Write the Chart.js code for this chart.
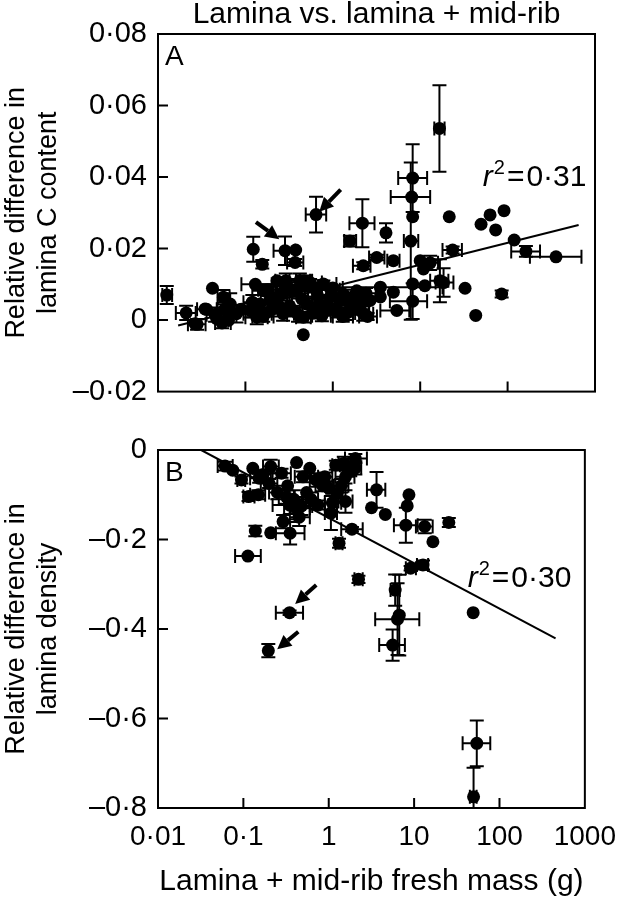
<!DOCTYPE html>
<html><head><meta charset="utf-8">
<script src="https://cdn.jsdelivr.net/npm/chart.js@4/dist/chart.umd.min.js"></script>
<style>
html,body{margin:0;padding:0;background:#fff;}
#wrap{position:relative;width:628px;height:900px;}
canvas{position:absolute;left:0;}
</style></head><body>
<div id="wrap">
<canvas id="ca" width="628" height="420" style="top:0"></canvas>
<canvas id="cb" width="628" height="480" style="top:420px"></canvas>
</div>
<script>
// ---------- tick values & labels ----------
const xTicks = [0.01, 0.1, 1, 10, 100, 1000];
const xTickLabels = ['0·01', '0·1', '1', '10', '100', '1000'];
const aTicks = [-0.02, 0, 0.02, 0.04, 0.06, 0.08];
const aTickLabels = ['–0·02', '0', '0·02', '0·04', '0·06', '0·08'];
const bTicks = [-0.8, -0.6, -0.4, -0.2, 0];
const bTickLabels = ['–0·8', '–0·6', '–0·4', '–0·2', '0'];

// ---------- Panel A: lamina C content ----------
const aMass = [0.0126,0.042,0.021,0.028,0.0345,0.054,0.056,0.067,0.079,0.047,
  0.064,0.113,0.123,0.135,0.147,0.156,0.16,0.23,0.23,0.27,
  0.284,0.324,0.376,0.37,0.42,0.50,0.46,0.46,0.35,0.643,
  0.65,0.78,0.93,1.11,1.32,1.57,1.88,2.23,2.67,2.18,
  4.06,1.57,2.23,3.18,4.93,10.0,10.9,16.6,8.2,8.0,
  8.2,7.8,8.2,8.2,16.8,18.5,11.3,4.93,5.4,21.5,
  23.5,32.6,43.2,49.7,63,73,91,85.5,119,162,
  358,0.0265,0.17,0.19,0.60,0.70,1.00,1.30,2.00,2.50,
  0.30,0.55,0.24,0.14,0.09,0.036,13.0,3.5,3.5,0.13,
  0.20,0.26,0.32,0.38,0.44,0.52,0.58,0.68,0.85,0.95,
  1.2,1.45,1.7,2.1,2.4,0.12,0.18,0.16,0.40,0.75,
  1.0,0.045,0.058,0.29,0.47];
const aDiffC = [0.0070,0.0089,0.0020,-0.0012,0.0031,-0.0008,0.0064,0.0045,0.0018,0.0004,
  -0.0001,0.0027,0.0198,0.0008,0.0045,0.0156,0.0082,0.0064,0.011,0.0018,
  0.0194,0.0082,0.0196,0.0161,0.011,0.0045,0.0008,-0.0041,0.0027,0.0295,
  0.0082,0.0101,0.0064,0.0027,0.0073,0.0045,0.0082,0.0018,0.0055,0.0271,
  0.0244,0.0221,0.0152,0.0175,0.0166,0.0166,0.0143,0.0536,0.0397,0.0344,
  0.0289,0.0221,0.0101,0.0053,0.011,0.0105,0.0096,0.0078,0.0027,0.0289,
  0.0196,0.0089,0.0013,0.0268,0.0294,0.0252,0.0306,0.0073,0.0224,0.0192,
  0.0177,-0.0010,0.0020,0.0055,0.0020,0.0045,0.0090,0.0010,0.0030,0.0010,
  0.0095,0.0105,0.0040,0.0015,0.0030,0.0030,0.0160,0.0092,0.0065,0.0100,
  0.0030,0.0075,0.0040,0.0085,0.0060,0.0095,0.0035,0.0065,0.0040,0.0085,
  0.0055,0.0020,0.0065,0.0045,0.0075,0.0050,0.0085,0.0010,0.0015,0.0012,
  0.0030,0.0015,0.0030,0.0110,0.0110];
const aMassLo = [0.0112,null,0.016,0.022,null,0.045,0.048,null,0.065,null,
  null,0.085,null,0.10,null,null,0.12,0.17,null,0.20,
  0.21,null,null,0.30,0.32,null,0.38,null,null,0.49,
  null,0.50,null,0.80,null,1.20,null,1.70,null,1.55,
  null,1.35,1.70,2.60,4.20,null,null,14.5,5.6,4.6,
  null,6.5,null,4.5,13.0,15.0,null,null,3.5,null,
  18.0,null,null,null,null,null,null,null,null,110,
  180,null,null,null,0.45,null,0.70,1.00,1.50,2.00,
  0.22,0.40,null,null,null,0.028,10.0,0.90,null,0.09,
  0.15,0.20,0.25,0.30,0.34,0.40,0.45,0.52,0.65,0.75,
  0.95,1.15,1.35,1.70,1.90,0.095,0.14,0.12,0.30,0.58,
  0.80,0.036,0.047,0.22,0.38];
const aMassHi = [0.0145,null,0.027,0.035,null,0.068,0.066,null,0.095,null,
  null,0.15,null,0.18,null,null,0.21,0.30,null,0.36,
  0.37,null,null,0.46,0.55,null,0.56,null,null,0.84,
  null,1.10,null,1.40,null,2.00,null,2.90,null,3.00,
  null,1.85,2.70,3.90,5.80,null,null,19.0,12.0,13.0,
  null,9.5,null,12.0,21.0,24.0,null,null,7.5,null,
  30.0,null,null,null,null,null,null,null,null,235,
  700,null,null,null,0.80,null,1.30,1.70,2.60,3.20,
  0.42,0.75,null,null,null,0.048,16.0,18.0,null,0.20,
  0.27,0.34,0.42,0.48,0.58,0.68,0.75,0.90,1.10,1.20,
  1.50,1.80,2.20,2.60,3.10,0.15,0.23,0.21,0.52,0.95,
  1.25,0.056,0.070,0.38,0.58];
const aDiffCErr = [0.0025,0,0.002,0.0015,0,0.0015,0.002,0.003,0.0025,0,
  0,0.002,0.0035,0.002,0,0.0012,0,0.003,0,0.002,
  0.004,0,0,0.001,0.002,0,0.0015,0,0,0.005,
  0,0.001,0,0.002,0,0.002,0,0.002,0,0.0067,
  0.0027,0.0015,0.001,0.0008,0,0,0,0.0121,0.0095,0,
  0,0.022,0,0.005,0.006,0.004,0,0,0,0,
  0.001,0,0,0,0,0,0,0.001,0,0.0015,
  0,0,0,0,0.0015,0,0,0.0015,0.0015,0.001,
  0.002,0.001,0,0,0,0,0.002,0,0,0,
  0.002,0.002,0.003,0.002,0.0025,0.0015,0.003,0.002,0.002,0.0015,
  0.002,0.002,0.002,0.002,0.0015,0.002,0.0015,0.0015,0.002,0.0015,
  0.0015,0.002,0.002,0.002,0.0015];
const aFitMass = [0.017, 650];
const aFitDiff = [-0.0015, 0.0266];

// ---------- Panel B: lamina density ----------
const bMass = [0.061,0.095,0.129,0.153,0.209,0.28,0.42,0.60,0.115,0.15,
  0.35,0.42,0.39,0.292,0.353,0.138,0.209,0.113,0.348,0.196,
  0.746,1.06,1.26,1.57,1.32,1.87,2.23,0.71,0.90,1.21,
  1.57,2.05,2.05,3.63,3.17,4.60,8.70,8.30,8.00,13.3,
  16.6,25.5,12.7,9.1,6.0,6.7,6.4,5.6,49.2,54.2,
  49.7,0.33,0.55,0.45,0.25,1.00,1.10,0.075,1.50,0.20,
  0.17,0.50,0.32,0.62,0.85,1.40,1.75,0.48];
const bDiffDens = [-0.036,-0.067,-0.041,-0.063,-0.037,-0.052,-0.028,-0.041,-0.104,-0.100,
  -0.123,-0.130,-0.110,-0.160,-0.186,-0.181,-0.185,-0.237,-0.3635,-0.4484,
  -0.123,-0.141,-0.097,-0.115,-0.2086,-0.177,-0.289,-0.067,-0.060,-0.034,
  -0.060,-0.019,-0.040,-0.089,-0.129,-0.144,-0.100,-0.125,-0.168,-0.171,
  -0.205,-0.162,-0.257,-0.264,-0.313,-0.369,-0.378,-0.436,-0.3635,-0.6555,
  -0.775,-0.080,-0.095,-0.150,-0.095,-0.085,-0.118,-0.045,-0.030,-0.075,
  -0.055,-0.060,-0.105,-0.110,-0.080,-0.080,-0.045,-0.125];
const bMassLo = [0.050,0.085,null,0.12,0.17,0.22,null,null,0.10,0.12,
  0.22,0.30,0.30,null,0.24,null,null,0.08,0.24,null,
  0.60,0.90,null,1.30,1.20,1.40,2.00,0.60,0.75,1.10,
  1.20,1.55,1.70,2.80,null,null,null,null,5.80,10.5,
  null,null,10.8,8.0,5.3,null,3.5,3.9,null,37,
  45,null,null,0.35,0.20,null,0.90,null,1.30,0.16,
  0.14,0.40,0.26,0.50,0.70,1.15,1.45,0.36];
const bMassHi = [0.075,0.105,null,0.19,0.26,0.36,null,null,0.135,0.18,
  0.50,0.60,0.50,null,0.52,null,null,0.16,0.50,null,
  0.90,1.25,null,1.90,1.45,2.50,2.50,0.85,1.10,1.35,
  2.00,2.80,2.40,4.60,null,null,null,null,11.0,16.5,
  null,null,14.6,10.5,6.8,null,11.5,7.8,null,78,
  54,null,null,0.60,0.31,null,1.40,null,1.70,0.25,
  0.21,0.62,0.40,0.75,1.00,1.70,2.10,0.64];
const bDiffDensErr = [0.010,0.008,0,0.010,0.015,0.010,0,0,0.010,0.010,
  0.020,0.025,0.020,0.015,0.025,0.012,0,0,0.005,0.015,
  0.010,0.038,0,0.025,0.010,0.005,0.008,0.015,0.010,0.010,
  0.015,0.010,0.015,0.040,0,0,0,0,0.039,0.015,
  0,0.010,0.010,0.005,0.035,0.090,0.080,0.035,0,0.051,
  0.065,0,0,0.020,0.015,0,0.020,0,0.015,0.010,
  0.010,0.012,0.015,0.015,0.012,0.015,0.012,0.020];
const bFitMass = [0.032, 454];
const bFitDens = [0.0, -0.421];

// ---------- annotations (data coordinates) ----------
const aR2 = {x: 52, y: 0.0375, text: '0·31'};
const bR2 = {x: 42.4, y: -0.306, text: '0·30'};
const aArrows = [[1.23, 0.0365, 0.70, 0.0303], [0.132, 0.0274, 0.244, 0.0226]];
const bArrows = [[0.714, -0.3017, 0.404, -0.344], [0.44, -0.406, 0.249, -0.4454]];

const FONT = '"Liberation Sans", Arial, Helvetica, sans-serif';

function drawArrow(ctx, x1, y1, x2, y2) {
  const ang = Math.atan2(y2 - y1, x2 - x1);
  const hl = 14, hw = 7;
  const bx = x2 - hl * Math.cos(ang), by = y2 - hl * Math.sin(ang);
  ctx.lineWidth = 4;
  ctx.beginPath(); ctx.moveTo(x1, y1); ctx.lineTo(bx, by); ctx.stroke();
  ctx.beginPath();
  ctx.moveTo(x2, y2);
  ctx.lineTo(bx + hw * Math.sin(ang), by - hw * Math.cos(ang));
  ctx.lineTo(bx - hw * Math.sin(ang), by + hw * Math.cos(ang));
  ctx.closePath(); ctx.fill();
}

function makeDecor(p) {
  return {
    id: 'decor' + p.letter,
    beforeDatasetsDraw(chart) {
      const {ctx, chartArea: a, scales: {x, y}} = chart;
      ctx.save();
      ctx.beginPath(); ctx.rect(a.left, a.top, a.right - a.left, a.bottom - a.top); ctx.clip();
      ctx.strokeStyle = '#000'; ctx.lineWidth = 2;
      const cap = 7;
      for (let i = 0; i < p.xs.length; i++) {
        const px = x.getPixelForValue(p.xs[i]), py = y.getPixelForValue(p.ys[i]);
        ctx.beginPath();
        if (p.xlo[i] != null) {
          const l = x.getPixelForValue(p.xlo[i]), r = x.getPixelForValue(p.xhi[i]);
          ctx.moveTo(l, py); ctx.lineTo(r, py);
          ctx.moveTo(l, py - cap); ctx.lineTo(l, py + cap);
          ctx.moveTo(r, py - cap); ctx.lineTo(r, py + cap);
        }
        if (p.ye[i]) {
          const t = y.getPixelForValue(p.ys[i] + p.ye[i]), b = y.getPixelForValue(p.ys[i] - p.ye[i]);
          ctx.moveTo(px, t); ctx.lineTo(px, b);
          ctx.moveTo(px - cap, t); ctx.lineTo(px + cap, t);
          ctx.moveTo(px - cap, b); ctx.lineTo(px + cap, b);
        }
        ctx.stroke();
      }
      ctx.restore();
    },
    afterDraw(chart) {
      const {ctx, chartArea: a, scales: {x, y}} = chart;
      ctx.save();
      ctx.strokeStyle = '#000'; ctx.fillStyle = '#000';
      ctx.lineWidth = 2;
      ctx.strokeRect(a.left, a.top, a.right - a.left, a.bottom - a.top);
      ctx.beginPath();
      y.ticks.forEach(t => {
        const py = y.getPixelForValue(t.value);
        if (Math.abs(py - a.top) > 2 && Math.abs(py - a.bottom) > 2) { ctx.moveTo(a.left, py); ctx.lineTo(a.left + 10, py); }
      });
      x.ticks.forEach(t => {
        const px = x.getPixelForValue(t.value);
        if (Math.abs(px - a.left) > 2 && Math.abs(px - a.right) > 2) { ctx.moveTo(px, a.bottom); ctx.lineTo(px, a.bottom - 10); }
      });
      ctx.stroke();
      // panel letter
      ctx.font = '28px ' + FONT; ctx.textBaseline = 'alphabetic'; ctx.textAlign = 'left';
      ctx.fillText(p.letter, a.left + 7, a.top + 31);
      // r^2 label
      let tx = x.getPixelForValue(p.r2.x); const ty = y.getPixelForValue(p.r2.y);
      ctx.font = 'italic 30px ' + FONT; ctx.fillText('r', tx, ty); tx += ctx.measureText('r').width + 1;
      ctx.font = '20px ' + FONT; ctx.fillText('2', tx, ty - 12); tx += ctx.measureText('2').width + 2;
      ctx.font = '30px ' + FONT; ctx.fillText('=', tx, ty); tx += ctx.measureText('=').width + 2;
      ctx.fillText(p.r2.text, tx, ty);
      // arrows
      p.arrows.forEach(ar => drawArrow(ctx, x.getPixelForValue(ar[0]), y.getPixelForValue(ar[1]), x.getPixelForValue(ar[2]), y.getPixelForValue(ar[3])));
      ctx.restore();
    }
  };
}

function makeChart(id, p) {
  return new Chart(document.getElementById(id), {
    data: {
      datasets: [
        { type: 'scatter', data: p.xs.map((v, i) => ({x: v, y: p.ys[i]})), pointRadius: 6.5, pointHoverRadius: 6.5,
          backgroundColor: '#000', borderWidth: 0 },
        { type: 'line', data: p.fx.map((v, i) => ({x: v, y: p.fy[i]})), borderColor: '#000', borderWidth: 2,
          pointRadius: 0, fill: false }
      ]
    },
    options: {
      responsive: false, animation: false,
      layout: { padding: { top: p.padTop, right: 33, left: 0, bottom: 0 } },
      plugins: {
        legend: { display: false }, tooltip: { enabled: false },
        title: { display: !!p.title, text: p.title || '', color: '#000', fullSize: false,
          font: { family: FONT, size: 30, weight: 'normal', lineHeight: 1.0 }, padding: { top: 0, bottom: 4 } }
      },
      scales: {
        x: {
          type: 'logarithmic', min: 0.01, max: 1000,
          afterBuildTicks: s => { s.ticks = xTicks.map(v => ({value: v})); },
          afterFit: s => { s.height = p.xH; },
          ticks: { display: p.showX, autoSkip: false, maxRotation: 0, color: '#000', padding: 12,
            font: { family: FONT, size: 28 }, callback: (v, i) => xTickLabels[i] },
          grid: { display: false, drawTicks: false }, border: { display: false },
          title: { display: p.showX, text: 'Lamina + mid-rib fresh mass (g)', color: '#000', padding: 0,
            font: { family: FONT, size: 30, lineHeight: 1.2 } }
        },
        y: {
          type: 'linear', min: p.yMin, max: p.yMax,
          afterBuildTicks: s => { s.ticks = p.yTicks.map(v => ({value: v})); },
          afterFit: s => { s.width = 158; },
          ticks: { color: '#000', padding: 11, font: { family: FONT, size: 29 }, callback: (v, i) => p.yLabels[i] },
          grid: { display: false, drawTicks: false }, border: { display: false },
          title: { display: true, text: p.yTitle, color: '#000', padding: 0,
            font: { family: FONT, size: 27, lineHeight: 1.2 } }
        }
      }
    },
    plugins: [makeDecor(p)]
  });
}

makeChart('ca', {
  letter: 'A', xs: aMass, ys: aDiffC, xlo: aMassLo, xhi: aMassHi, ye: aDiffCErr,
  fx: aFitMass, fy: aFitDiff, r2: aR2, arrows: aArrows,
  title: 'Lamina vs. lamina + mid-rib', padTop: 0, xH: 27, showX: false,
  yMin: -0.02, yMax: 0.08, yTicks: aTicks, yLabels: aTickLabels,
  yTitle: ['Relative difference in', 'lamina C content']
});
makeChart('cb', {
  letter: 'B', xs: bMass, ys: bDiffDens, xlo: bMassLo, xhi: bMassHi, ye: bDiffDensErr,
  fx: bFitMass, fy: bFitDens, r2: bR2, arrows: bArrows,
  title: null, padTop: 30, xH: 92, showX: true,
  yMin: -0.8, yMax: 0, yTicks: bTicks, yLabels: bTickLabels,
  yTitle: ['Relative difference in', 'lamina density']
});
</script>
</body></html>
